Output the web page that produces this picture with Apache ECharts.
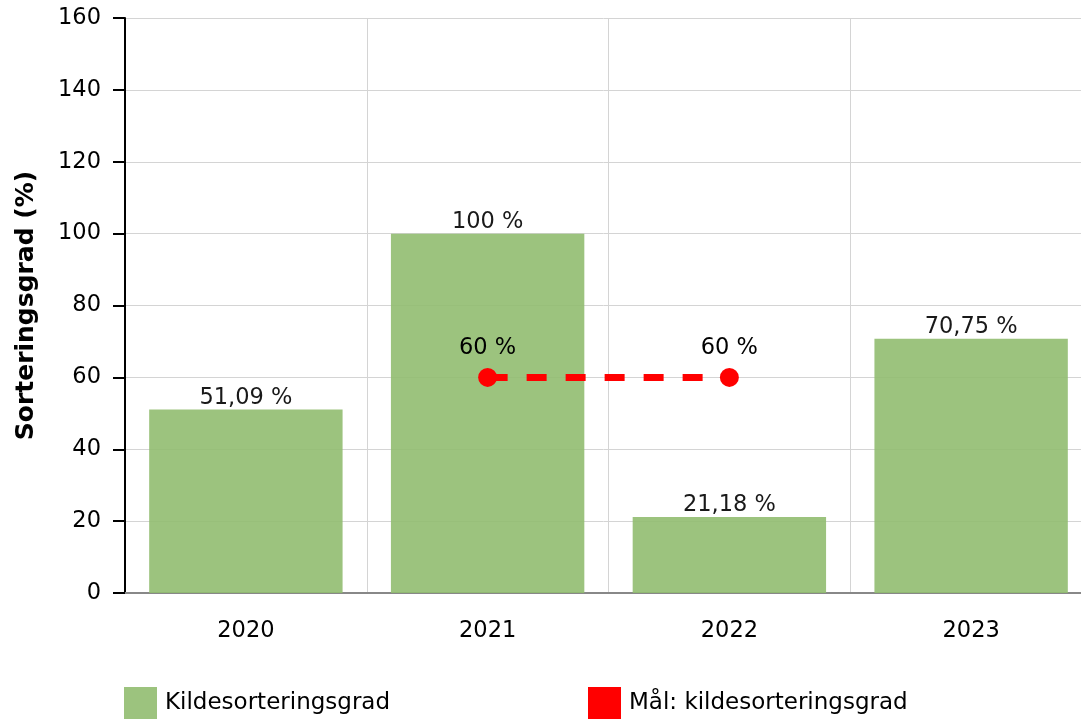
<!DOCTYPE html>
<html>
<head>
<meta charset="utf-8">
<script src="https://cdn.jsdelivr.net/npm/echarts@6/dist/echarts.min.js"></script>
<style>
  html, body { margin: 0; padding: 0; background: #fff; }
  #chart { width: 1081px; height: 720px; }
</style>
</head>
<body>
<div id="chart"></div>
<script>
const years = ['2020', '2021', '2022', '2023']
const sortingRate = [51.09, 100, 21.18, 70.75]
const target = [null, 60, 60, null]
const yTicks = [0, 20, 40, 60, 80, 100, 120, 140, 160]

const barName = 'Kildesorteringsgrad'
const lineName = 'Mål: kildesorteringsgrad'
const font = 'DejaVu Sans, Verdana, sans-serif'
const fs = 22.5

// komma som desimaltegn
const pct = p => String(p.value).replace('.', ',') + ' %'

const chart = echarts.init(document.getElementById('chart'))
chart.setOption({
  animation: false,
  textStyle: { fontFamily: font },
  grid: { left: 125, right: -11, top: 18, bottom: 127, outerBoundsMode: 'none', containLabel: false },
  legend: [
    {
      data: [{ name: barName, icon: 'rect' }],
      left: 124, top: 687, padding: 0,
      itemWidth: 33, itemHeight: 32, itemGap: 0,
      textStyle: { fontSize: 23, color: '#000', fontFamily: font, padding: [3, 0, 0, 3] }
    },
    {
      data: [{ name: lineName, icon: 'rect' }],
      left: 588, top: 687, padding: 0,
      itemWidth: 33, itemHeight: 32, itemGap: 0,
      textStyle: { fontSize: 23, color: '#000', fontFamily: font, padding: [3, 0, 0, 3] }
    }
  ],
  xAxis: {
    type: 'category',
    data: years,
    axisLine: { lineStyle: { color: '#888', width: 2 } },
    axisTick: { alignWithLabel: true, length: 9, lineStyle: { color: '#aaa', width: 2 } },
    axisLabel: { fontSize: fs, color: '#000', margin: 27 },
    splitLine: { show: true, lineStyle: { color: '#d4d4d4', width: 1 } }
  },
  yAxis: {
    type: 'value',
    min: yTicks[0],
    max: yTicks[yTicks.length - 1],
    interval: 20,
    name: 'Sorteringsgrad (%)',
    nameLocation: 'middle',
    nameGap: 86,
    nameTextStyle: { fontSize: 25, fontWeight: 'bold', color: '#000' },
    axisLine: { show: true, lineStyle: { color: '#000', width: 2 } },
    axisTick: { show: true, length: 12, lineStyle: { color: '#000', width: 2 } },
    axisLabel: { fontSize: fs, color: '#000', margin: 24 },
    splitLine: { show: true, lineStyle: { color: '#d4d4d4', width: 1 } }
  },
  series: [
    {
      name: barName,
      type: 'bar',
      data: sortingRate,
      barWidth: '80%',
      itemStyle: { color: '#91bd70', opacity: 0.9 },
      label: {
        show: true, position: 'top', distance: 0,
        fontSize: fs, color: '#000', formatter: pct
      }
    },
    {
      name: lineName,
      type: 'line',
      data: target,
      symbol: 'circle',
      symbolSize: 19,
      itemStyle: { color: '#ff0000' },
      lineStyle: { color: '#ff0000', width: 7, type: [20, 19] },
      label: {
        show: true, position: 'top', distance: 8,
        fontSize: fs, color: '#000', formatter: pct
      }
    }
  ]
})
</script>
</body>
</html>
